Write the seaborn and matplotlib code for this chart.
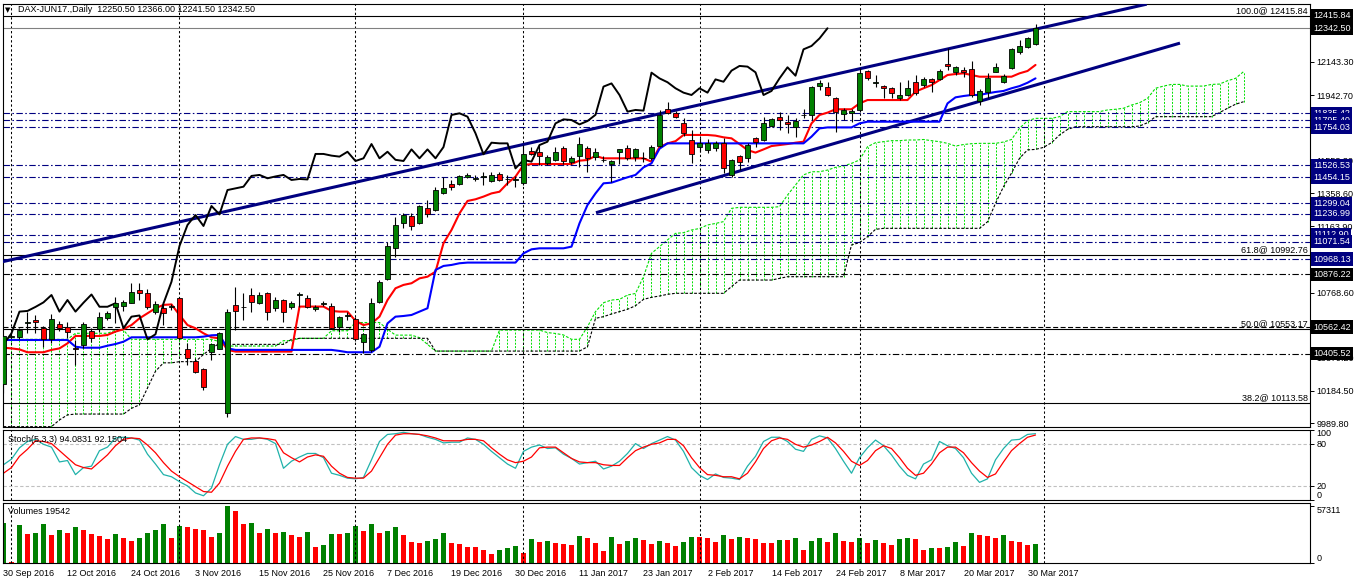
import numpy as np
import seaborn as sns
import matplotlib.pyplot as plt

sns.set_style("white")
plt.rcParams['font.family'] = ['Liberation Sans', 'DejaVu Sans']
plt.rcParams['font.size'] = 6.5
plt.rcParams['text.color'] = 'black'
plt.rcParams['xtick.color'] = 'black'
plt.rcParams['ytick.color'] = 'black'

# ---------------------------------------------------------------
# Datos (barras diarias 30 Sep 2016 - 31 Mar 2017)
# ---------------------------------------------------------------
opens = [10222, 10505, 10502, 10588, 10605, 10556, 10490, 10579, 10565, 10440,
         10456, 10540, 10552, 10619, 10685, 10690, 10708, 10784, 10764, 10651,
         10679, 10684, 10734, 10430, 10361, 10311, 10413, 10430, 10050, 10694,
         10680, 10754, 10704, 10768, 10675, 10724, 10680, 10754, 10734, 10669,
         10703, 10688, 10565, 10630, 10611, 10472, 10427, 10714, 10847, 11032,
         11181, 11224, 11181, 11270, 11260, 11363, 11413, 11415, 11455, 11447,
         11457, 11433, 11473, 11443, 11440, 11423, 11613, 11607, 11542, 11558,
         11627, 11544, 11582, 11627, 11578, 11557, 11534, 11605, 11627, 11578,
         11570, 11568, 11641, 11860, 11840, 11776, 11677, 11633, 11617, 11627,
         11657, 11468, 11582, 11568, 11687, 11677, 11760, 11816, 11786, 11752,
         11825, 11826, 12000, 11995, 11925, 11832, 11836, 11856, 12090, 12019,
         11998, 11985, 11929, 11945, 12020, 12004, 12038, 12038, 12130, 12080,
         12094, 12098, 11909, 11965, 12084, 12024, 12104, 12203, 12233, 12250.5]
highs = [10516, 10520, 10560, 10655, 10635, 10570, 10641, 10600, 10595, 10486,
         10595, 10560, 10655, 10660, 10744, 10725, 10823, 10823, 10790, 10720,
         10704, 10700, 10740, 10466, 10377, 10320, 10462, 10536, 10670, 10803,
         10764, 10794, 10770, 10770, 10740, 10730, 10720, 10774, 10755, 10695,
         10720, 10705, 10630, 10655, 10620, 10526, 10734, 10843, 11072, 11220,
         11245, 11240, 11290, 11320, 11399, 11459, 11439, 11470, 11482, 11469,
         11489, 11489, 11489, 11469, 11463, 11647, 11633, 11647, 11590, 11637,
         11640, 11580, 11693, 11640, 11627, 11580, 11555, 11625, 11647, 11630,
         11607, 11645, 11856, 11905, 11848, 11806, 11736, 11687, 11680, 11670,
         11687, 11565, 11590, 11660, 11695, 11812, 11810, 11846, 11826, 11806,
         11860, 12000, 12034, 12024, 11935, 11866, 11860, 12104, 12095, 12064,
         12004, 11990, 12024, 12034, 12064, 12054, 12045, 12098, 12223, 12120,
         12114, 12150, 11980, 12078, 12134, 12070, 12225, 12272, 12290, 12366]
lows = [10172, 10495, 10490, 10526, 10530, 10445, 10470, 10540, 10500, 10337,
        10436, 10476, 10535, 10605, 10585, 10660, 10704, 10724, 10670, 10640,
        10575, 10665, 10490, 10337, 10287, 10190, 10367, 10430, 10030, 10546,
        10605, 10655, 10700, 10605, 10660, 10595, 10670, 10685, 10675, 10660,
        10690, 10550, 10535, 10605, 10480, 10407, 10417, 10705, 10843, 10982,
        11150, 11141, 11175, 11220, 11255, 11355, 11379, 11410, 11450, 11435,
        11409, 11425, 11430, 11409, 11399, 11409, 11588, 11528, 11530, 11550,
        11535, 11535, 11518, 11488, 11558, 11545, 11429, 11534, 11560, 11554,
        11548, 11560, 11637, 11830, 11806, 11700, 11538, 11607, 11600, 11610,
        11478, 11459, 11498, 11548, 11637, 11670, 11756, 11736, 11717, 11697,
        11806, 11796, 11975, 11940, 11727, 11796, 11786, 11846, 12035, 11995,
        11925, 11925, 11915, 11940, 11945, 11995, 11965, 12035, 12094, 12064,
        12054, 11935, 11885, 11925, 12080, 12014, 12100, 12190, 12225, 12241.5]
closes = [10510, 10508, 10546, 10593, 10591, 10490, 10609, 10556, 10532, 10434,
          10581, 10500, 10621, 10645, 10704, 10710, 10770, 10764, 10685, 10700,
          10645, 10686, 10496, 10377, 10297, 10204, 10460, 10526, 10655, 10659,
          10683, 10710, 10754, 10655, 10724, 10655, 10708, 10757, 10684, 10684,
          10705, 10556, 10625, 10632, 10490, 10520, 10704, 10833, 11046, 11171,
          11230, 11165, 11284, 11234, 11379, 11389, 11399, 11463, 11469, 11449,
          11460, 11469, 11439, 11445, 11442, 11594, 11594, 11584, 11578, 11607,
          11552, 11568, 11653, 11568, 11607, 11559, 11552, 11621, 11568, 11621,
          11568, 11635, 11826, 11836, 11816, 11717, 11592, 11661, 11657, 11657,
          11508, 11558, 11548, 11647, 11667, 11776, 11800, 11796, 11770, 11790,
          11827, 11995, 12014, 11945, 11846, 11856, 11852, 12078, 12044, 12021,
          11985, 11959, 11945, 11985, 11959, 12038, 12024, 12090, 12118, 12114,
          12080, 11945, 11969, 12044, 12110, 12060, 12217, 12237, 12282, 12342.5]

# Ichimoku: tenkan (rojo), kijun (azul)
tenkan = [10440, 10436, 10430, 10413, 10413, 10413, 10427, 10436, 10466, 10510,
          10510, 10510, 10510, 10516, 10536, 10550, 10575, 10615, 10645, 10675,
          10695, 10698, 10635, 10575, 10556, 10526, 10502, 10496, 10427, 10417,
          10417, 10417, 10417, 10417, 10417, 10417, 10417, 10685, 10685, 10685,
          10685, 10659, 10655, 10655, 10600, 10575, 10585, 10625, 10724, 10794,
          10814, 10824, 10853, 10863, 10893, 11062, 11141, 11240, 11314, 11324,
          11340, 11359, 11369, 11419, 11459, 11528, 11534, 11534, 11534, 11534,
          11534, 11534, 11554, 11558, 11582, 11568, 11568, 11568, 11568, 11568,
          11568, 11548, 11635, 11657, 11670, 11707, 11707, 11707, 11707, 11703,
          11693, 11687, 11653, 11617, 11602, 11621, 11641, 11647, 11653, 11661,
          11667, 11776, 11826, 11840, 11860, 11860, 11860, 11895, 11915, 11915,
          11915, 11915, 11915, 11915, 11965, 11985, 12004, 12034, 12064, 12070,
          12074, 12064, 12054, 12054, 12054, 12054, 12054, 12074, 12088, 12124]
kijun = [10486, 10486, 10486, 10486, 10486, 10486, 10486, 10486, 10486, 10446,
         10440, 10440, 10440, 10452, 10462, 10476, 10502, 10502, 10502, 10502,
         10502, 10502, 10502, 10502, 10502, 10506, 10514, 10516, 10436, 10427,
         10427, 10427, 10427, 10427, 10427, 10427, 10427, 10427, 10427, 10427,
         10427, 10427, 10421, 10413, 10413, 10413, 10413, 10446, 10585, 10625,
         10629, 10635, 10655, 10675, 10903, 10927, 10933, 10943, 10947, 10947,
         10947, 10947, 10947, 10947, 10947, 11002, 11026, 11032, 11032, 11032,
         11032, 11042, 11181, 11290, 11359, 11419, 11423, 11439, 11455, 11469,
         11514, 11538, 11625, 11657, 11657, 11657, 11657, 11657, 11657, 11657,
         11657, 11657, 11657, 11657, 11657, 11657, 11657, 11657, 11657, 11657,
         11657, 11697, 11746, 11752, 11752, 11752, 11752, 11776, 11786, 11786,
         11786, 11786, 11786, 11786, 11786, 11786, 11786, 11786, 11895, 11931,
         11939, 11945, 11945, 11955, 11963, 11969, 11985, 11998, 12018, 12044]

# Nube: senkou span A (verde) y span B (negro), 26 barras hacia adelante
span_a = [10490, 10490, 10490, 10490, 10490, 10490, 10490, 10490, 10490, 10526,
          10526, 10526, 10526, 10526, 10545, 10545, 10490, 10490, 10490, 10490,
          10490, 10490, 10490, 10490, 10490, 10490, 10490, 10476, 10450, 10450,
          10450, 10450, 10450, 10450, 10450, 10482, 10482, 10496, 10496, 10496,
          10496, 10541, 10541, 10541, 10590, 10590, 10590, 10590, 10550, 10515,
          10515, 10515, 10500, 10460, 10420, 10420, 10420, 10420, 10420, 10420,
          10420, 10420, 10545, 10545, 10545, 10545, 10545, 10545, 10530, 10525,
          10516, 10490, 10490, 10565, 10655, 10708, 10724, 10728, 10754, 10763,
          10863, 11002, 11042, 11082, 11121, 11125, 11141, 11150, 11171, 11180,
          11191, 11270, 11276, 11276, 11276, 11276, 11276, 11280, 11349, 11409,
          11469, 11488, 11488, 11498, 11514, 11522, 11538, 11558, 11637, 11661,
          11667, 11673, 11673, 11677, 11677, 11680, 11673, 11667, 11657, 11641,
          11650, 11655, 11657, 11657, 11657, 11665, 11680, 11747, 11792, 11806,
          11806, 11806, 11816, 11846, 11846, 11846, 11846, 11846, 11856, 11860,
          11866, 11885, 11899, 11925, 11985, 11998, 12008, 12008, 11998, 11998,
          11998, 12008, 12010, 12030, 12044, 12084]
span_b = [9970, 9970, 9970, 9970, 9970, 9970, 9970, 10010, 10040, 10045,
          10045, 10045, 10045, 10045, 10045, 10045, 10079, 10100, 10200, 10300,
          10350, 10350, 10357, 10357, 10357, 10400, 10436, 10466, 10460, 10460,
          10460, 10460, 10460, 10460, 10460, 10460, 10490, 10496, 10496, 10496,
          10496, 10496, 10496, 10496, 10496, 10496, 10496, 10496, 10496, 10496,
          10496, 10496, 10496, 10496, 10420, 10420, 10420, 10420, 10420, 10420,
          10420, 10420, 10420, 10420, 10420, 10420, 10420, 10420, 10420, 10420,
          10420, 10420, 10420, 10446, 10615, 10625, 10641, 10655, 10669, 10690,
          10728, 10740, 10748, 10758, 10764, 10764, 10764, 10764, 10764, 10764,
          10764, 10804, 10843, 10843, 10843, 10843, 10843, 10853, 10863, 10863,
          10863, 10863, 10863, 10863, 10863, 10863, 11052, 11066, 11101, 11145,
          11151, 11151, 11151, 11151, 11151, 11151, 11151, 11151, 11151, 11151,
          11151, 11151, 11151, 11190, 11300, 11399, 11480, 11568, 11618, 11621,
          11633, 11661, 11707, 11740, 11756, 11756, 11756, 11756, 11756, 11756,
          11756, 11756, 11760, 11780, 11816, 11816, 11816, 11816, 11816, 11816,
          11816, 11816, 11840, 11866, 11890, 11905]

# Estocastico (5,3,3)
stoch_main = [50, 58, 74, 83, 86, 79, 75, 54, 56, 36,
              46, 48, 70, 75, 88, 89, 88, 85, 65, 51,
              36, 33, 26, 20, 10, 6, 17, 50, 79, 90,
              86, 86, 88, 86, 80, 45, 55, 61, 66, 66,
              60, 38, 35, 31, 30, 32, 57, 83, 93, 94,
              96, 94, 93, 89, 86, 81, 82, 82, 88, 86,
              79, 69, 60, 51, 45, 69, 75, 78, 73, 74,
              65, 59, 51, 53, 55, 44, 48, 55, 66, 80,
              73, 80, 85, 90, 85, 69, 46, 35, 29, 37,
              32, 31, 29, 48, 62, 83, 89, 89, 83, 72,
              69, 86, 91, 88, 73, 55, 38, 60, 74, 85,
              77, 64, 48, 35, 30, 51, 57, 83, 77, 73,
              60, 38, 25, 30, 57, 73, 85, 86, 93, 94.0831]
stoch_signal = [38, 46, 62, 72, 84, 83, 80, 70, 60, 50,
                46, 44, 54, 64, 77, 86, 88, 87, 78, 67,
                53, 41, 33, 26, 19, 12, 11, 24, 48, 69,
                86, 88, 88, 87, 85, 67, 60, 54, 61, 64,
                62, 48, 38, 32, 31, 31, 41, 60, 79, 92,
                94, 94, 93, 91, 88, 84, 84, 84, 86, 86,
                84, 74, 65, 57, 53, 55, 61, 74, 75, 75,
                67, 59, 54, 53, 53, 50, 49, 49, 60, 70,
                75, 79, 81, 86, 86, 77, 60, 46, 36, 35,
                33, 33, 30, 38, 54, 73, 84, 88, 86, 79,
                75, 78, 83, 89, 81, 69, 55, 49, 56, 70,
                77, 73, 60, 45, 35, 38, 51, 67, 75, 75,
                67, 53, 41, 32, 37, 54, 70, 80, 89, 92.1504]

volumes = [41050, 1000, 39000, 29860, 30880, 40040, 28840, 33930, 30880, 36980,
           33930, 29860, 27820, 24770, 29860, 25790, 22730, 25790, 30880, 33930,
           40040, 25790, 38000, 36980, 34950, 33930, 26800, 30880, 57311, 52250,
           40040, 41050, 30880, 34950, 30880, 31890, 28840, 26800, 31890, 16630,
           18660, 29860, 29500, 30880, 38000, 32910, 40040, 30880, 32910, 36980,
           28840, 21720, 20700, 22730, 24770, 30880, 20700, 19680, 16630, 16300,
           13570, 9500, 13570, 15610, 17640, 10520, 24600, 21720, 22000, 20700,
           19680, 18660, 27820, 25790, 20700, 12550, 26800, 19680, 22730, 25790,
           23750, 19680, 22730, 20700, 17640, 21720, 26800, 26500, 25790, 21720,
           28840, 24770, 26800, 25790, 24770, 20700, 20400, 23750, 23500, 25790,
           13570, 22730, 25790, 21720, 30880, 22730, 21720, 25790, 20700, 23750,
           20700, 18660, 24770, 25100, 24700, 13570, 15610, 15300, 16630, 21720,
           17640, 30880, 28840, 27820, 25790, 28840, 22730, 21720, 18660, 19542]

date_labels = ["30 Sep 2016", "12 Oct 2016", "24 Oct 2016", "3 Nov 2016", "15 Nov 2016",
               "25 Nov 2016", "7 Dec 2016", "19 Dec 2016", "30 Dec 2016", "11 Jan 2017",
               "23 Jan 2017", "2 Feb 2017", "14 Feb 2017", "24 Feb 2017", "8 Mar 2017",
               "20 Mar 2017", "30 Mar 2017"]
date_bars = [0, 8, 16, 24, 32, 40, 48, 56, 64, 72, 80, 88, 96, 104, 112, 120, 128]
month_start_bars = [1, 22, 44, 65, 87, 107, 130]

# Marcas del eje de precios; las que quedan tapadas por etiquetas van sin texto
price_ticks = [12143.30, 11942.70, 11748.00, 11553.30, 11358.60, 11163.90,
               10969.20, 10768.60, 10573.90, 10379.20, 10184.50, 9989.80]
hidden_ticks = [11748.00, 10969.20, 10573.90]

# Lineas horizontales dibujadas en el grafico
blue_levels = [11835.42, 11795.40, 11754.03, 11526.53, 11454.15, 11299.04,
               11236.99, 11112.90, 11071.54, 10968.13]
black_dashdot_levels = [10876.22, 10405.52]
black_dash_levels = [10562.42]
fib_levels = [12415.84, 10992.76, 10553.17, 10113.58]
fib_pcts = ["100.0", "61.8", "50.0", "38.2"]
black_tags = [12415.84, 12342.50, 10876.22, 10562.42, 10405.52]
bid_price = 12342.50

# Lineas de tendencia (barra, precio)
upper_trend_bars = [-2, 142.9]
upper_trend_prices = [10932, 12486]
lower_trend_bars = [74.06, 147.06]
lower_trend_prices = [11244, 12254]

# ---------------------------------------------------------------
W, H = 1358, 584
fig = plt.figure(figsize=(W / 100, H / 100), dpi=100)
fig.patch.set_facecolor("white")


def caja(x0, y0, x1, y1):
    return [x0 / W, 1 - y1 / H, (x1 - x0) / W, (y1 - y0) / H]


ax = fig.add_axes(caja(3, 4, 1310, 427))
ax_st = fig.add_axes(caja(3, 429.5, 1310, 500))
ax_vol = fig.add_axes(caja(3, 502.5, 1310, 563))

x = np.arange(len(closes))
o = np.array(opens)
h = np.array(highs)
l = np.array(lows)
c = np.array(closes)
navy = "#000080"
verde = "#008000"
rojo = "#ff0000"
lima = "#00e000"
dash_dot = (0, (5.8, 2.2, 1.4, 2.2))
grid_dash = (0, (2.2, 2.2))

for a in (ax, ax_st, ax_vol):
    a.set_xlim(-0.06, 163.31)
    for s in a.spines.values():
        s.set_color("black")
        s.set_linewidth(0.8)
    for b in month_start_bars:
        a.axvline(b, color="black", ls=grid_dash, lw=0.75, zorder=1.5)
    a.yaxis.tick_right()
    a.tick_params(axis="y", direction="out", length=3, width=0.7, labelsize=6.5, pad=1.5)

# ---- Panel principal ----
ax.set_ylim(9967.9, 12486.9)

# Nube: rayado vertical verde donde A esta arriba, gris donde B esta arriba
xc = np.arange(len(span_a))
sa = np.array(span_a)
sb = np.array(span_b)
arriba = sa >= sb
ax.vlines(xc[arriba], sb[arriba], sa[arriba], colors=lima,
          linestyles=(0, (2, 1.5)), lw=0.7, zorder=1)
ax.vlines(xc[~arriba], sa[~arriba], sb[~arriba], colors="#808080",
          linestyles=(0, (2, 1.5)), lw=0.7, zorder=1)
ax.plot(xc, sa, color=lima, ls=(0, (2.5, 1.5)), lw=0.8, zorder=1.2)
ax.plot(xc, sb, color="black", ls=(0, (2.5, 1.5)), lw=0.8, zorder=1.2)

# Lineas horizontales
for lv in blue_levels:
    ax.axhline(lv, color=navy, ls=dash_dot, lw=0.8, zorder=2)
for lv in black_dashdot_levels:
    ax.axhline(lv, color="black", ls=dash_dot, lw=0.8, zorder=2)
for lv in black_dash_levels:
    ax.axhline(lv, color="black", ls=(0, (4.5, 2.2)), lw=0.8, zorder=2)
for lv, pct in zip(fib_levels, fib_pcts):
    ax.axhline(lv, color="black", lw=0.8, zorder=2)
    ax.text(163.0, lv + 4, f"{pct}@ {lv:.2f}", ha="right", va="bottom", fontsize=6.5, zorder=6)
ax.axhline(bid_price, color="#808080", lw=0.8, zorder=2)

# Lineas de tendencia
ax.plot(upper_trend_bars, upper_trend_prices, color=navy, lw=2.2, zorder=3, solid_capstyle="butt")
ax.plot(lower_trend_bars, lower_trend_prices, color=navy, lw=2.2, zorder=3, solid_capstyle="butt")

# Ichimoku
sns.lineplot(x=x, y=tenkan, ax=ax, color=rojo, lw=1.5, zorder=3.2)
sns.lineplot(x=x, y=kijun, ax=ax, color="#0000ff", lw=1.5, zorder=3.2)
sns.lineplot(x=x[:len(x) - 26], y=c[26:], ax=ax, color="black", lw=1.4, zorder=3.2)

# Velas
up = c >= o
ax.vlines(x, l, h, color="black", lw=0.8, zorder=4)
ax.bar(x, c - o, bottom=o, width=0.62, color=np.where(up, verde, rojo),
       edgecolor="black", linewidth=0.6, zorder=5)

ax.set_xticks([])
ax.set_yticks(price_ticks)
ax.set_yticklabels(["" if t in hidden_ticks else f"{t:.2f}" for t in price_ticks])
ax.set_xlabel("")
ax.set_ylabel("")


# Etiquetas de precio en el eje derecho
def etiqueta(a, y, fc):
    a.annotate(f"{y:.2f}", xy=(1, y), xycoords=("axes fraction", "data"),
               xytext=(2.2, 0), textcoords="offset points", ha="left", va="center",
               color="white", fontsize=6.5,
               bbox=dict(boxstyle="square,pad=0.25", fc=fc, ec="none"),
               annotation_clip=False, zorder=7)


for lv in blue_levels:
    etiqueta(ax, lv, navy)
for lv in black_tags:
    etiqueta(ax, lv, "black")

# ---- Estocastico ----
ax_st.set_ylim(0, 100)
ax_st.axhline(80, color="#c0c0c0", ls=(0, (3, 2)), lw=0.8)
ax_st.axhline(20, color="#c0c0c0", ls=(0, (3, 2)), lw=0.8)
sns.lineplot(x=x, y=stoch_main, ax=ax_st, color="#20b2aa", lw=0.9)
sns.lineplot(x=x, y=stoch_signal, ax=ax_st, color=rojo, lw=0.9)
ax_st.set_xticks([])
ax_st.set_yticks([100, 80, 20, 0])
ax_st.set_yticklabels(["100", "80", "20", "0"])
st_lbls = ax_st.get_yticklabels()
st_lbls[0].set_va("top")
st_lbls[3].set_va("bottom")
ax_st.set_xlabel("")
ax_st.set_ylabel("")

# ---- Volumen ----
vol = np.array(volumes)
col_vol = [verde] + [verde if vol[i] > vol[i - 1] else rojo for i in range(1, len(vol))]
ax_vol.bar(x, vol, width=0.7, color=col_vol, linewidth=0)
ax_vol.set_ylim(0, 61368)
ax_vol.set_yticks([57311, 0])
ax_vol.set_yticklabels(["57311", "0"])
v_lbls = ax_vol.get_yticklabels()
v_lbls[0].set_va("top")
v_lbls[1].set_va("bottom")
ax_vol.set_xticks(date_bars)
ax_vol.set_xticklabels(date_labels)
ax_vol.tick_params(axis="x", direction="out", length=3, width=0.7, labelsize=6.5, pad=1.5)
for t in ax_vol.get_xticklabels():
    t.set_ha("left")

# Textos de cabecera
fig.text(5 / W, 1 - 10 / H, "▼", fontsize=5, va="center", family=["DejaVu Sans"])
fig.text(18 / W, 1 - 10 / H, "DAX-JUN17.,Daily  12250.50 12366.00 12241.50 12342.50",
         fontsize=6.5, va="center")
fig.text(8 / W, 1 - 439 / H, "Stoch(5,3,3) 94.0831 92.1504", fontsize=6.5, va="center")
fig.text(8 / W, 1 - 512 / H, "Volumes 19542", fontsize=6.5, va="center")

fig.savefig("out.png", dpi=100)
